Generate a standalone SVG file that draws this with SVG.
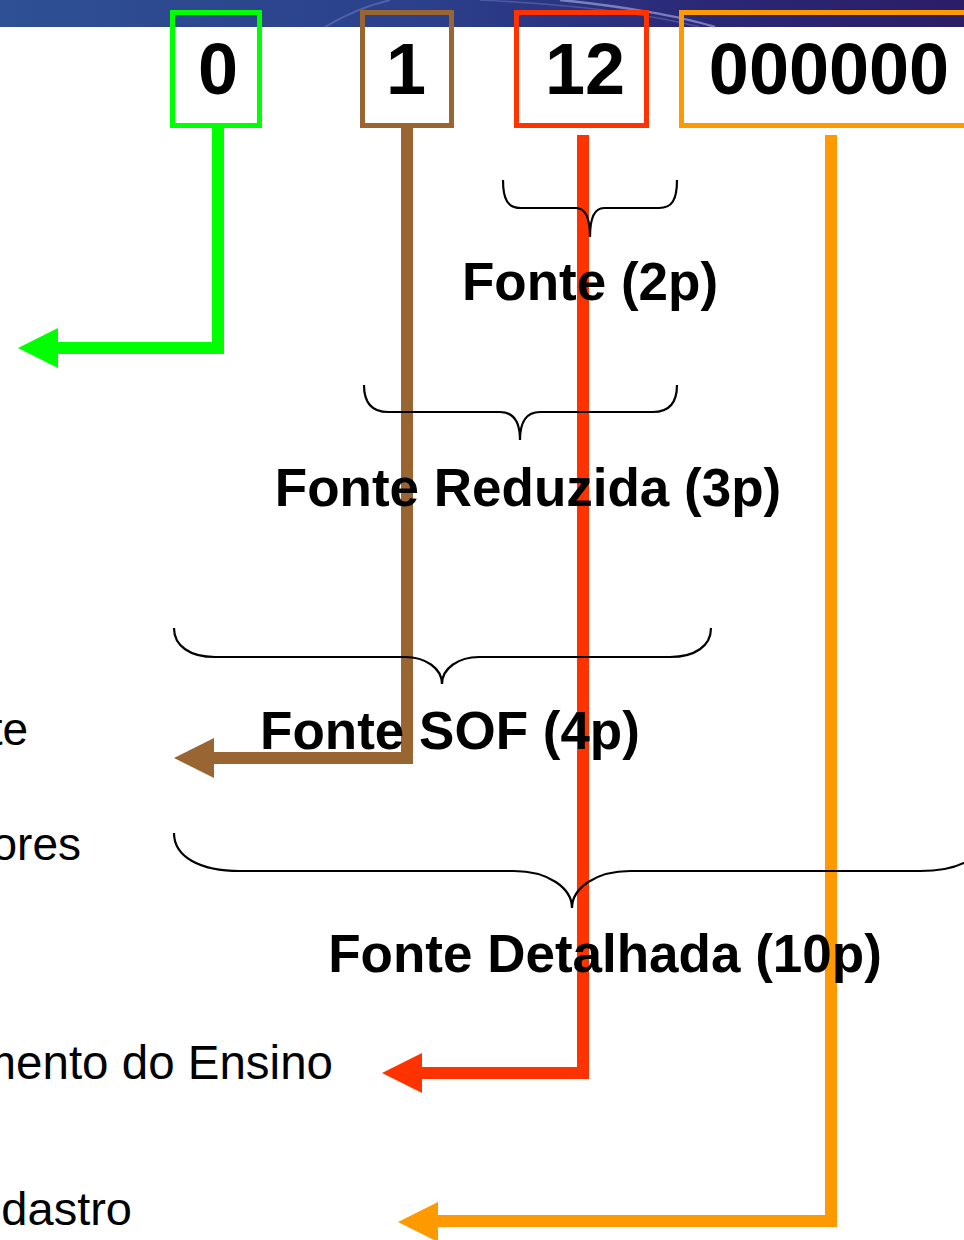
<svg xmlns="http://www.w3.org/2000/svg" width="964" height="1240" viewBox="0 0 964 1240">
<defs>
<linearGradient id="band" x1="0" y1="0" x2="1" y2="0">
<stop offset="0" stop-color="#2e5094"/>
<stop offset="0.45" stop-color="#2b3f8a"/>
<stop offset="0.75" stop-color="#2a2775"/>
<stop offset="1" stop-color="#2b1d66"/>
</linearGradient>
<style>
.box{fill:none;stroke-width:5}
.digit{font-family:"Liberation Sans",Arial,sans-serif;font-weight:bold;font-size:72px;fill:#000;text-anchor:middle}
.lbl{font-family:"Liberation Sans",Arial,sans-serif;font-weight:bold;font-size:53px;fill:#000;text-anchor:middle}
.side{font-family:"Liberation Sans",Arial,sans-serif;font-size:46px;fill:#000;text-anchor:end}
.brace{fill:none;stroke:#000;stroke-width:2.2}
.line{fill:none;stroke-width:12;stroke-linejoin:miter;stroke-linecap:butt}
</style>
</defs>
<rect width="964" height="1240" fill="#fff"/>
<g id="band-top">
<rect x="0" y="0" width="964" height="27" fill="url(#band)"/>
<path d="M325,27 C345,15 365,6 390,0" fill="none" stroke="#8fa0d8" stroke-opacity="0.35" stroke-width="2"/>
<path d="M560,0 C620,6 680,16 715,27" fill="none" stroke="#b8c2f0" stroke-opacity="0.55" stroke-width="2.5"/>
<path d="M480,0 C560,4 640,12 700,27" fill="none" stroke="#9aa8e0" stroke-opacity="0.3" stroke-width="1.5"/>
</g>
<g id="connectors">
<polyline class="line" stroke="#00ff00" points="218,127 218,348 57,348"/>
<polygon fill="#00ff00" points="18,348 58,328 58,368"/>
<polyline class="line" stroke="#996633" points="407,127 407,758 213,758"/>
<polygon fill="#996633" points="174,758 214,738 214,778"/>
<polyline class="line" stroke="#ff3300" points="583,135 583,1073 421,1073"/>
<polygon fill="#ff3300" points="382,1073 422,1053 422,1093"/>
<polyline class="line" stroke="#ff9900" points="831,135 831,1221 437,1221"/>
<polygon fill="#ff9900" points="398,1222 438,1202 438,1242"/>
</g>
<g id="braces">
<path class="brace" d="M503,180 C503,200 508,208 521,208 L576,208 C584,208 590,215 590,237 C590,215 596,208 604,208 L659,208 C672,208 677,200 677,180"/>
<path class="brace" d="M364,385 C364,403 372,412 388,412 L500,412 C512,412 520,420 520,440 C520,420 528,412 540,412 L653,412 C669,412 677,403 677,385"/>
<path class="brace" d="M174,628 C174,646 190,657 215,657 L405,657 C425,657 442,668 442,684 C442,668 459,657 479,657 L670,657 C695,657 711,646 711,628"/>
<path class="brace" d="M174,833 C174,857 200,871 240,871 L514,871 C548,871 572,888 572,908 C572,888 596,871 630,871 L920,871 C960,871 985,857 985,833"/>
</g>
<g id="node-0">
<rect class="box" stroke="#00ff00" x="172.5" y="12.5" width="87" height="113"/>
<text class="digit" x="218" y="94">0</text>
</g>
<g id="node-1">
<rect class="box" stroke="#996633" x="362.5" y="12.5" width="89" height="113"/>
<text class="digit" x="406" y="94">1</text>
</g>
<g id="node-12">
<rect class="box" stroke="#ff3300" x="516.5" y="12.5" width="130" height="113"/>
<text class="digit" x="585" y="94">12</text>
</g>
<g id="node-000000">
<rect class="box" stroke="#ff9900" x="681.5" y="12.5" width="300" height="113"/>
<text class="digit" x="829" y="94">000000</text>
</g>
<g id="label-fonte">
<text class="lbl" x="590" y="300">Fonte (2p)</text>
</g>
<g id="label-reduzida">
<text class="lbl" x="528" y="506">Fonte Reduzida (3p)</text>
</g>
<g id="label-sof">
<text class="lbl" x="450" y="749">Fonte SOF (4p)</text>
</g>
<g id="label-detalhada">
<text class="lbl" x="605" y="972">Fonte Detalhada (10p)</text>
</g>
<g id="side-texts">
<text class="side" x="28" y="745">te</text>
<text class="side" x="81" y="860">ores</text>
<text class="side" x="333" y="1079" style="font-size:47.5px">mento do Ensino</text>
<text class="side" x="132" y="1225" style="font-size:47px">dastro</text>
</g>
</svg>
